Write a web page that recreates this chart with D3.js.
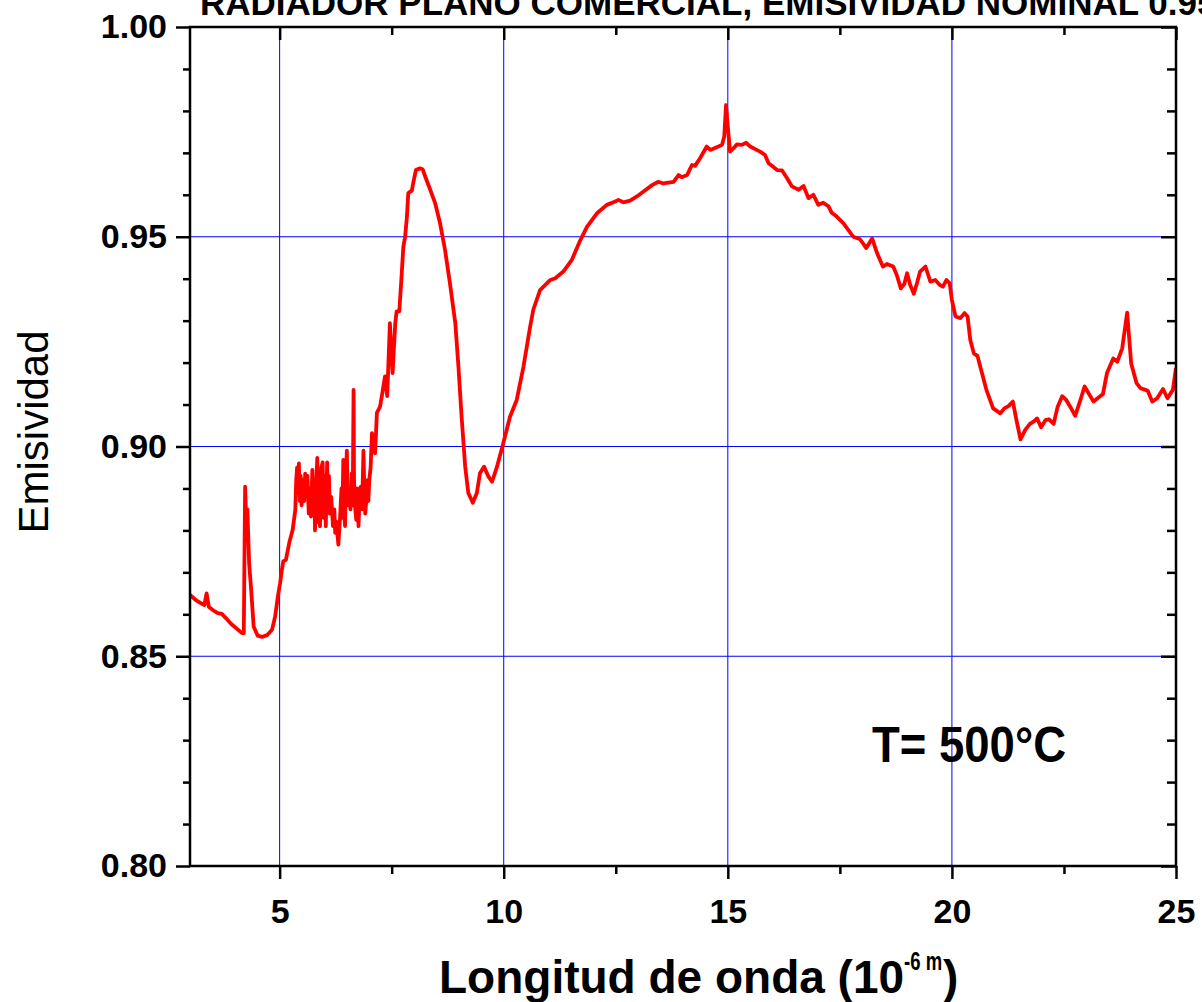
<!DOCTYPE html>
<html>
<head>
<meta charset="utf-8">
<script src="https://cdn.jsdelivr.net/npm/d3@7"></script>
<style>
  body { margin: 0; background: #fff; }
  text { font-family: "Liberation Sans", Arial, sans-serif; }
</style>
</head>
<body>
<div id="viz"></div>
<script>
// wavelength (10^-6 m) and emissivity
// (each row of wavelength lines up with the same row of emissivity)
const wavelength = [
  3.00, 3.13, 3.25, 3.32, 3.37, 3.42, 3.51, 3.62, 3.71, 3.80, 3.92, 4.03, 4.16, 4.20,
  4.23, 4.26, 4.28, 4.32, 4.36, 4.42, 4.51, 4.61, 4.73, 4.83, 4.90, 4.96, 5.01, 5.05,
  5.08, 5.14, 5.22, 5.29, 5.35, 5.37, 5.39, 5.41, 5.43, 5.45, 5.47, 5.49, 5.52, 5.55,
  5.57, 5.59, 5.62, 5.65, 5.68, 5.70, 5.73, 5.75, 5.77, 5.79, 5.81, 5.84, 5.86, 5.88,
  5.90, 5.93, 5.96, 5.98, 6.01, 6.03, 6.06, 6.08, 6.10, 6.12, 6.15, 6.19, 6.22, 6.24,
  6.27, 6.31, 6.33, 6.35, 6.38, 6.40, 6.42, 6.44, 6.46, 6.48, 6.50, 6.52, 6.55, 6.58,
  6.61, 6.63, 6.65, 6.66, 6.68, 6.71, 6.73, 6.76, 6.78, 6.81, 6.84, 6.87, 6.89, 6.91,
  6.94, 6.96, 6.98, 7.00, 7.03, 7.06, 7.13, 7.17, 7.24, 7.28, 7.35, 7.40, 7.46, 7.52,
  7.58, 7.61, 7.67, 7.72, 7.76, 7.80, 7.84, 7.87, 7.95, 7.98, 8.04, 8.13, 8.19, 8.25,
  8.36, 8.47, 8.58, 8.69, 8.80, 8.92, 8.99, 9.06, 9.14, 9.21, 9.31, 9.40, 9.47, 9.56,
  9.66, 9.74, 9.85, 9.99, 10.14, 10.29, 10.44, 10.59, 10.66, 10.81, 11.04, 11.15, 11.33, 11.52,
  11.71, 11.86, 12.08, 12.30, 12.49, 12.56, 12.67, 12.82, 12.97, 13.12, 13.31, 13.45, 13.56, 13.79,
  13.90, 13.97, 14.09, 14.20, 14.27, 14.38, 14.53, 14.61, 14.79, 14.87, 14.92, 14.96, 15.00, 15.05,
  15.13, 15.20, 15.31, 15.41, 15.50, 15.61, 15.72, 15.83, 15.91, 16.02, 16.10, 16.21, 16.32, 16.43,
  16.58, 16.69, 16.80, 16.91, 17.02, 17.13, 17.25, 17.32, 17.43, 17.58, 17.80, 17.95, 18.09, 18.22,
  18.33, 18.46, 18.55, 18.69, 18.77, 18.86, 18.94, 19.00, 19.07, 19.15, 19.22, 19.29, 19.41, 19.52,
  19.63, 19.73, 19.80, 19.88, 19.95, 20.00, 20.08, 20.19, 20.28, 20.35, 20.41, 20.49, 20.57, 20.67,
  20.77, 20.92, 21.08, 21.17, 21.27, 21.36, 21.44, 21.53, 21.64, 21.74, 21.83, 21.90, 21.99, 22.09,
  22.16, 22.27, 22.36, 22.46, 22.55, 22.64, 22.75, 22.85, 22.96, 23.05, 23.16, 23.25, 23.37, 23.46,
  23.60, 23.69, 23.80, 23.91, 24.00, 24.12, 24.21, 24.32, 24.37, 24.47, 24.58, 24.71, 24.81, 24.93,
  25.00
];
const emissivity = [
  0.8646, 0.8634, 0.8626, 0.8622, 0.8650, 0.8618, 0.8610, 0.8603, 0.8601, 0.8591, 0.8577, 0.8567, 0.8555, 0.8555,
  0.8904, 0.8800, 0.8850, 0.8720, 0.8666, 0.8571, 0.8549, 0.8546, 0.8551, 0.8563, 0.8595, 0.8642, 0.8674, 0.8706,
  0.8726, 0.8730, 0.8773, 0.8801, 0.8849, 0.8920, 0.8950, 0.8890, 0.8960, 0.8870, 0.8930, 0.8860, 0.8920, 0.8870,
  0.8935, 0.8880, 0.8930, 0.8840, 0.8900, 0.8833, 0.8944, 0.8850, 0.8920, 0.8800, 0.8900, 0.8973, 0.8820, 0.8940,
  0.8810, 0.8950, 0.8962, 0.8830, 0.8930, 0.8810, 0.8962, 0.8850, 0.8930, 0.8840, 0.8880, 0.8810, 0.8850, 0.8794,
  0.8820, 0.8766, 0.8800, 0.8833, 0.8900, 0.8830, 0.8968, 0.8850, 0.8810, 0.8940, 0.8990, 0.8860, 0.8890, 0.8850,
  0.8936, 0.8860, 0.9135, 0.8920, 0.8860, 0.8825, 0.8900, 0.8810, 0.8870, 0.8904, 0.8850, 0.8990, 0.8900, 0.8840,
  0.8880, 0.8920, 0.8870, 0.8920, 0.8950, 0.9032, 0.8984, 0.9080, 0.9095, 0.9120, 0.9167, 0.9120, 0.9294, 0.9175,
  0.9294, 0.9322, 0.9322, 0.9405, 0.9476, 0.9500, 0.9548, 0.9604, 0.9610, 0.9628, 0.9659, 0.9663, 0.9661, 0.9643,
  0.9612, 0.9580, 0.9532, 0.9469, 0.9389, 0.9294, 0.9190, 0.9071, 0.8952, 0.8889, 0.8866, 0.8889, 0.8936, 0.8952,
  0.8928, 0.8916, 0.8952, 0.9008, 0.9071, 0.9111, 0.9190, 0.9286, 0.9326, 0.9373, 0.9397, 0.9401, 0.9417, 0.9445,
  0.9492, 0.9524, 0.9556, 0.9576, 0.9584, 0.9588, 0.9582, 0.9586, 0.9596, 0.9608, 0.9623, 0.9631, 0.9627, 0.9631,
  0.9647, 0.9642, 0.9647, 0.9671, 0.9669, 0.9687, 0.9715, 0.9707, 0.9715, 0.9719, 0.9739, 0.9814, 0.9762, 0.9703,
  0.9711, 0.9720, 0.9719, 0.9724, 0.9715, 0.9709, 0.9703, 0.9695, 0.9675, 0.9666, 0.9659, 0.9658, 0.9640, 0.9620,
  0.9612, 0.9621, 0.9592, 0.9600, 0.9576, 0.9581, 0.9572, 0.9557, 0.9548, 0.9532, 0.9500, 0.9494, 0.9473, 0.9496,
  0.9461, 0.9429, 0.9435, 0.9429, 0.9409, 0.9377, 0.9388, 0.9413, 0.9385, 0.9364, 0.9389, 0.9417, 0.9429, 0.9393,
  0.9397, 0.9385, 0.9381, 0.9397, 0.9389, 0.9349, 0.9310, 0.9306, 0.9318, 0.9310, 0.9254, 0.9222, 0.9216, 0.9175,
  0.9135, 0.9091, 0.9079, 0.9091, 0.9097, 0.9107, 0.9063, 0.9017, 0.9040, 0.9054, 0.9060, 0.9067, 0.9046, 0.9063,
  0.9065, 0.9054, 0.9095, 0.9120, 0.9111, 0.9095, 0.9073, 0.9105, 0.9143, 0.9127, 0.9107, 0.9115, 0.9125, 0.9175,
  0.9210, 0.9202, 0.9234, 0.9319, 0.9198, 0.9151, 0.9139, 0.9135, 0.9133, 0.9107, 0.9115, 0.9137, 0.9115, 0.9135,
  0.9187
];

const xMajor = [5, 10, 15, 20, 25];
const xMinor = [7.5, 12.5, 17.5, 22.5];
const yMajor = [0.80, 0.85, 0.90, 0.95, 1.00];
const yMinor = [0.81, 0.82, 0.83, 0.84, 0.86, 0.87, 0.88, 0.89, 0.91, 0.92, 0.93, 0.94, 0.96, 0.97, 0.98, 0.99];

const margin = {top: 27, right: 26, bottom: 136, left: 190},
    width = 1202 - margin.left - margin.right,
    height = 1002 - margin.top - margin.bottom;

const root = d3.select("#viz")
    .append("svg")
    .attr("width", 1202)
    .attr("height", 1002);

const svg = root.append("g")
    .attr("transform", "translate(" + margin.left + "," + margin.top + ")");

const x = d3.scaleLinear().domain([3, 25]).range([0, width]);
const y = d3.scaleLinear().domain([0.80, 1.00]).range([height, 0]);

svg.append("defs").append("clipPath")
    .attr("id", "plotClip")
    .append("rect")
    .attr("width", width)
    .attr("height", height);

// blue grid at the major ticks
svg.append("g")
    .selectAll("line")
    .data(xMajor.filter(d => d < 25))
    .enter().append("line")
    .attr("x1", d => x(d)).attr("x2", d => x(d))
    .attr("y1", 0).attr("y2", height)
    .attr("stroke", "#0000ff").attr("stroke-width", 1);

svg.append("g")
    .selectAll("line")
    .data(yMajor.filter(d => d > 0.8 && d < 1))
    .enter().append("line")
    .attr("x1", 0).attr("x2", width)
    .attr("y1", d => y(d)).attr("y2", d => y(d))
    .attr("stroke", "#0000ff").attr("stroke-width", 1);

// the curve
const points = wavelength.map((w, i) => [w, emissivity[i]]);
svg.append("path")
    .datum(points)
    .attr("clip-path", "url(#plotClip)")
    .attr("fill", "none")
    .attr("stroke", "#ff0000")
    .attr("stroke-width", 3.8)
    .attr("stroke-linejoin", "round")
    .attr("d", d3.line().x(d => x(d[0])).y(d => y(d[1])));

function styleAxis(g) {
    g.selectAll(".domain").remove();
    g.selectAll(".tick line").attr("stroke", "#000").attr("stroke-width", 2.5);
    g.selectAll("text")
        .attr("fill", "#000")
        .style("font-size", "34px")
        .style("font-weight", "bold");
}

// bottom
svg.append("g")
    .attr("transform", "translate(0," + height + ")")
    .call(d3.axisBottom(x).tickValues(xMajor).tickSize(13).tickPadding(20))
    .call(styleAxis);
svg.append("g")
    .attr("transform", "translate(0," + height + ")")
    .call(d3.axisBottom(x).tickValues(xMinor).tickSize(8).tickFormat(""))
    .call(styleAxis);

// top, ticks pointing inward
svg.append("g")
    .call(d3.axisTop(x).tickValues(xMajor).tickSize(-13).tickFormat(""))
    .call(styleAxis);
svg.append("g")
    .call(d3.axisTop(x).tickValues(xMinor).tickSize(-8).tickFormat(""))
    .call(styleAxis);

// left
svg.append("g")
    .call(d3.axisLeft(y).tickValues(yMajor).tickSize(14).tickPadding(9).tickFormat(d3.format(".2f")))
    .call(styleAxis);
svg.append("g")
    .call(d3.axisLeft(y).tickValues(yMinor).tickSize(7).tickFormat(""))
    .call(styleAxis);

// right, ticks pointing inward
svg.append("g")
    .attr("transform", "translate(" + width + ",0)")
    .call(d3.axisRight(y).tickValues(yMajor).tickSize(-15).tickFormat(""))
    .call(styleAxis);
svg.append("g")
    .attr("transform", "translate(" + width + ",0)")
    .call(d3.axisRight(y).tickValues(yMinor).tickSize(-9).tickFormat(""))
    .call(styleAxis);

// frame
svg.append("rect")
    .attr("width", width)
    .attr("height", height)
    .attr("fill", "none")
    .attr("stroke", "#000")
    .attr("stroke-width", 2.5);

// title (cut by the top edge, as in the original)
root.append("text")
    .attr("x", 200)
    .attr("y", 15)
    .style("font-size", "35px")
    .style("font-weight", "bold")
    .text("RADIADOR PLANO COMERCIAL, EMISIVIDAD NOMINAL 0.95");

// axis titles
root.append("text")
    .attr("transform", "translate(48,432) rotate(-90)")
    .attr("text-anchor", "middle")
    .style("font-size", "42px")
    .text("Emisividad");

const xt = root.append("text")
    .attr("x", 439)
    .attr("y", 993)
    .style("font-size", "46px")
    .style("font-weight", "bold");
xt.append("tspan").text("Longitud de onda (10");
xt.append("tspan").attr("dy", -23)
    .attr("textLength", 38).attr("lengthAdjust", "spacingAndGlyphs")
    .style("font-size", "25px").text("-6 m");
xt.append("tspan").attr("dx", 1).attr("dy", 23).text(")");

// temperature note
root.append("text")
    .attr("x", 872)
    .attr("y", 762)
    .attr("textLength", 194)
    .attr("lengthAdjust", "spacingAndGlyphs")
    .style("font-size", "50px")
    .style("font-weight", "bold")
    .text("T= 500°C");
</script>
</body>
</html>
